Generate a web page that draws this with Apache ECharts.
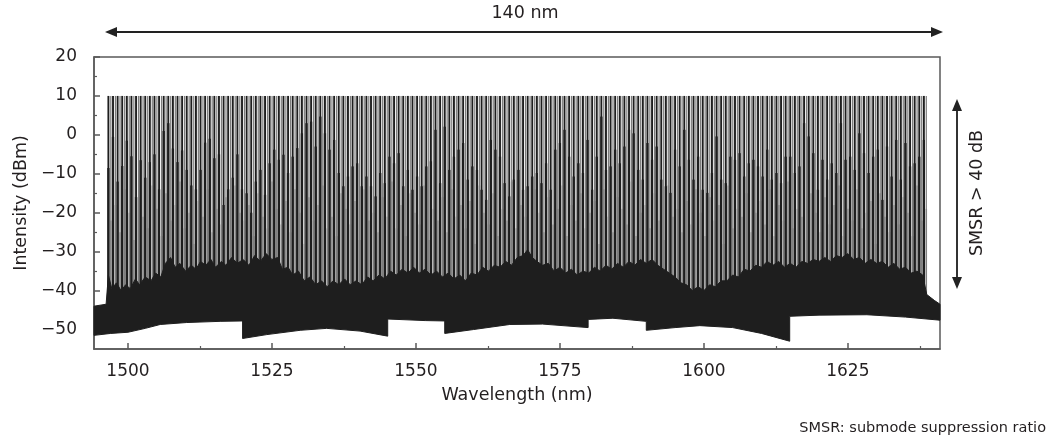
<!DOCTYPE html>
<html>
<head>
<meta charset="utf-8">
<script src="https://cdn.jsdelivr.net/npm/echarts@6/dist/echarts.min.js"></script>
<style>
  html, body { margin: 0; padding: 0; background: #fff; }
  #main { width: 1051px; height: 446px; }
</style>
</head>
<body>
<div id="main"></div>
<script>
// lasing channels (nm), all peaks reach the same level
const peakNm = [
  1496.6, 1497.4, 1498.2, 1499.0, 1499.8, 1500.6, 1501.4, 1502.2, 1503.0, 1503.8,
  1504.6, 1505.4, 1506.2, 1507.0, 1507.8, 1508.6, 1509.4, 1510.2, 1511.0, 1511.8,
  1512.6, 1513.4, 1514.2, 1515.0, 1515.8, 1516.6, 1517.4, 1518.2, 1519.0, 1519.8,
  1520.6, 1521.4, 1522.2, 1523.0, 1523.8, 1524.6, 1525.4, 1526.2, 1527.0, 1527.8,
  1528.6, 1529.4, 1530.2, 1531.0, 1531.8, 1532.6, 1533.4, 1534.2, 1535.0, 1535.8,
  1536.6, 1537.4, 1538.2, 1539.0, 1539.8, 1540.6, 1541.4, 1542.2, 1543.0, 1543.8,
  1544.6, 1545.4, 1546.2, 1547.0, 1547.8, 1548.6, 1549.4, 1550.2, 1551.0, 1551.8,
  1552.6, 1553.4, 1554.2, 1555.0, 1555.8, 1556.6, 1557.4, 1558.2, 1559.0, 1559.8,
  1560.6, 1561.4, 1562.2, 1563.0, 1563.8, 1564.6, 1565.4, 1566.2, 1567.0, 1567.8,
  1568.6, 1569.4, 1570.2, 1571.0, 1571.8, 1572.6, 1573.4, 1574.2, 1575.0, 1575.8,
  1576.6, 1577.4, 1578.2, 1579.0, 1579.8, 1580.6, 1581.4, 1582.2, 1583.0, 1583.8,
  1584.6, 1585.4, 1586.2, 1587.0, 1587.8, 1588.6, 1589.4, 1590.2, 1591.0, 1591.8,
  1592.6, 1593.4, 1594.2, 1595.0, 1595.8, 1596.6, 1597.4, 1598.2, 1599.0, 1599.8,
  1600.6, 1601.4, 1602.2, 1603.0, 1603.8, 1604.6, 1605.4, 1606.2, 1607.0, 1607.8,
  1608.6, 1609.4, 1610.2, 1611.0, 1611.8, 1612.6, 1613.4, 1614.2, 1615.0, 1615.8,
  1616.6, 1617.4, 1618.2, 1619.0, 1619.8, 1620.6, 1621.4, 1622.2, 1623.0, 1623.8,
  1624.6, 1625.4, 1626.2, 1627.0, 1627.8, 1628.6, 1629.4, 1630.2, 1631.0, 1631.8,
  1632.6, 1633.4, 1634.2, 1635.0, 1635.8, 1636.6, 1637.4, 1638.2
];
const peakDbm = 10;
const floorDbm = -46;

// height of the dense dark part under each peak (dBm)
const darkTop = [
  -8.5, -0.5, -12, -8, -1.5, -5.5, -16, -6.5, -11, -7,
  -5, -14, 1, 3, -3.5, -7, -4, -9, -13, -14,
  -9, -2, -1, -6, -5, -18, -14, -11, -5, -14,
  -15, -20, -12, -9,
  -15.4, -7.3, -3.8, -6.4, -5.1, -9.8, -5.6, -3.4, 0.4, 3,
  3.4, -3, 4.7, 0.4, -3.8, -1.3, -9.8, -13.2, -10.7, -8.1,
  -7.3, -13.2, -10.7, -13.2, -15.8, -9.8, -12.4, -5.6, -7.3, -4.7,
  -13.2, -9, -14.1, -10.7, -13.2, -8.1, -6.8,
  1.3, -12.4, 2.1, -9, -5.6, -3.8, -2.1, -11.5, -8.1, -9,
  -14.1, -16.7, -1.3, -3.8, -5.6, -12.4, -15.8, -11.5, -9, -14.1,
  -13.2, -10.7, -9.8, -12.4, -7.3, -14.1, -3.8, -2.1, 1.3, -5.6,
  -10.7, -7.3, -9.8, -1.3, -14.1, -5.6, 4.7,
  -9, -8.1, -3.8, -7.3, -3, 1.3, 0.4, -9, -11.5, -2.1,
  -6.4, -3, -11.5, -13.2, -14.9, -3.8, -8.1, 1.3, -6.4, -11.5,
  -5.6, -14.1, -14.9, -9.8, -0.4, -11.5, -12.4, -5.6, -6.4, -4.7,
  -10.7, -7.3, -6.4, -8.1, -10.7, -3.8, -11.5,
  -9.8, -12.4, -5.6, -5.6, -9.8, -8.1, 3, -0.4, -4.7, -14.1,
  -6.4, -11.5, -7.3, -9.8, 3, -6.4, -5.6, -9, 0.4, -4.7,
  -9.8, -5.6, -3.8, -16.7, -3, -10.7, -1.3, -11.5, -2.1, -8.1,
  -7.3, -5.6, -1.3
];

// light grey side traces between the peaks (dBm)
const lightTop = [
  -22, -18, -25, -14, -20, -27, -16, -21, -24, -13,
  -19, -26, -15, -22, -18, -12, -24, -20, -28, -17,
  -21, -14, -25, -19, -23, -16, -27, -13, -20, -22,
  -18, -26, -15, -21, -24, -12, -19, -23, -17, -25,
  -14, -20, -28, -16, -22, -18, -13, -24, -21, -26,
  -15, -19, -23, -17, -27, -14, -22, -20, -25, -16,
  -21, -12, -24, -18, -26, -15, -20, -23, -13, -27,
  -19, -22, -16, -25, -14, -21, -18, -24, -17, -28,
  -13, -20, -23, -15, -26, -19, -22, -12, -24, -18,
  -21, -27, -14, -20, -25, -16, -23, -19, -13, -26,
  -18, -22, -15, -24, -20, -17, -28, -14, -21, -25,
  -16, -19, -23, -12, -26, -20, -18, -24, -15, -22,
  -27, -13, -21, -19, -25, -17, -23, -14, -20, -26,
  -16, -22, -18, -28, -13, -24, -19, -21, -15, -25,
  -20, -17, -23, -14, -26, -18, -22, -12, -24, -19,
  -21, -27, -15, -20, -25, -16, -23, -18, -13, -26,
  -19, -22, -14, -24, -20, -17, -28, -15, -21, -25,
  -18, -23, -16, -20, -26, -13, -22, -19
];

// upper edge of the noise floor
const envTopNm = [1494.1, 1496.2, 1496.6, 1497.2, 1498, 1498.8, 1499.6, 1500.4, 1501.3, 1502,
  1503, 1504, 1504.8, 1505.7, 1506.5, 1507.4, 1508.2, 1509, 1510, 1511,
  1511.8, 1512.6, 1513.5, 1514.4, 1515.2, 1516.2, 1517, 1518, 1519, 1520,
  1521, 1522, 1523, 1524, 1525, 1526, 1526.8, 1527.8, 1528.6, 1529.6,
  1530.6, 1531.6, 1532.6, 1533.6, 1534.6, 1535.6, 1536.6, 1537.6, 1538.6, 1539.6,
  1540.6, 1541.6, 1542.6, 1543.6, 1544.6, 1545.6, 1546.6, 1547.6, 1548.6, 1549.6,
  1550.6, 1551.6, 1552.6, 1553.6, 1554.6, 1555.6, 1556.6, 1557.6, 1558.6, 1559.6,
  1560.6, 1561.6, 1562.6, 1563.6, 1564.6, 1565.6, 1566.6, 1567.6, 1568.6, 1569.4,
  1570.2, 1571, 1572, 1573, 1574, 1575, 1576, 1577, 1578, 1579,
  1580, 1581, 1582, 1583, 1584, 1585, 1586, 1587, 1588, 1589,
  1590, 1591, 1592, 1593, 1594, 1595, 1596, 1597, 1598, 1599,
  1600, 1601, 1602, 1603, 1604, 1605, 1606, 1607, 1608, 1609,
  1610, 1611, 1612, 1613, 1614, 1615, 1616, 1617, 1618, 1619,
  1620, 1621, 1622, 1623, 1624, 1625, 1626, 1627, 1628, 1629,
  1630, 1631, 1632, 1633, 1634, 1635, 1636, 1637, 1638, 1638.7,
  1640, 1641];
const envTopDb = [-44, -43.5, -36, -39.5, -38, -40, -38.5, -39.5, -37, -38.5,
  -36.5, -37.5, -35.5, -36.5, -33, -31.5, -34, -33, -35, -33.5,
  -34.5, -32.5, -33.5, -32, -34, -32.5, -33.5, -31.5, -33, -32,
  -33.5, -31, -32.5, -30.5, -32, -31.5, -34.5, -34, -36, -35,
  -37.5, -36.5, -38.5, -37.5, -39, -37.5, -38.5, -37, -38.5, -37.5,
  -38.5, -36.5, -37.5, -36, -37, -35, -36, -34.5, -35.5, -34,
  -35.5, -34.5, -36, -35, -36.5, -35.5, -37, -36, -37.5, -35.5,
  -36, -34, -35, -33.5, -34, -32.5, -33.5, -31.5, -31, -29.5,
  -31.5, -32.5, -33.5, -33, -35, -34, -35.5, -34.5, -36, -35,
  -35.5, -34, -35, -33.5, -34.5, -33, -34, -32.5, -33.5, -32,
  -33, -32, -33.5, -34.5, -35.5, -36.5, -38, -38.5, -40, -39,
  -40, -38.5, -39, -37.5, -37.5, -36, -36.5, -34.5, -35, -33.5,
  -34, -32.5, -33.5, -32.5, -34, -33, -34, -32.5, -33, -32,
  -32.5, -31.5, -32.5, -31, -31.5, -30.5, -32, -31.5, -33, -32,
  -33, -32.5, -34, -33, -34.5, -34, -35.5, -35, -36, -41,
  -42.5, -43.5];

// lower edge of the noise floor (steps where the sections join)
const envLowNm = [1494.1, 1497, 1500, 1503, 1505.6, 1510.2, 1516, 1519.9, 1519.9, 1524.1,
  1529.9, 1534.5, 1540.3, 1545.1, 1545.1, 1551.6, 1555, 1555, 1560, 1566.3,
  1572, 1579.9, 1579.9, 1584.2, 1590, 1590, 1595, 1599.3, 1605, 1610,
  1614.9, 1614.9, 1620, 1628.3, 1635, 1641];
const envLowDb = [-51.5, -51, -50.7, -49.7, -48.7, -48.2, -47.9, -47.8, -52.3, -51.3,
  -50.2, -49.7, -50.4, -51.7, -47.3, -47.7, -47.8, -51, -50, -48.7,
  -48.6, -49.5, -47.4, -47.1, -47.9, -50.2, -49.5, -49, -49.5, -51,
  -53, -46.6, -46.3, -46.2, -46.8, -47.6];

const xMajor = [1500, 1525, 1550, 1575, 1600, 1625];
const xMinor = [1512.5, 1537.5, 1562.5, 1587.5, 1612.5, 1637.5];
const yMajor = [-50, -40, -30, -20, -10, 0, 10, 20];
const yMinor = [-45, -35, -25, -15, -5, 5, 15];

const font = 'DejaVu Sans';
const ink = '#231f20';
const frame = '#5a5a5a';

const myChart = echarts.init(document.getElementById('main'));

const peakData = peakNm.map((x, i) => [x, darkTop[i], lightTop[i]]);
const xMin = 1494.1, xMax = 1641;

function axisBase(extra) {
  return Object.assign({
    type: 'value',
    scale: true,
    splitLine: { show: false },
  }, extra);
}

myChart.setOption({
  animation: false,
  grid: { left: 94, right: 111, top: 57, bottom: 97, show: true, borderColor: frame, borderWidth: 1.5 },
  xAxis: [
    axisBase({
      min: xMin, max: xMax,
      name: 'Wavelength (nm)', nameLocation: 'middle', nameGap: 37,
      nameTextStyle: { fontFamily: font, fontSize: 17.5, color: ink },
      axisLine: { onZero: false, lineStyle: { color: frame, width: 1.5 } },
      axisTick: { inside: true, length: 6, customValues: xMajor, lineStyle: { color: frame, width: 1.5 } },
      axisLabel: { customValues: xMajor, margin: 14, fontFamily: font, fontSize: 17, color: ink, formatter: v => String(v) }
    }),
    axisBase({
      min: xMin, max: xMax, position: 'bottom',
      axisLine: { show: false, onZero: false },
      axisTick: { inside: true, length: 3, customValues: xMinor, lineStyle: { color: frame, width: 1.2 } },
      axisLabel: { show: false }
    })
  ],
  yAxis: [
    axisBase({
      min: -55, max: 20,
      name: 'Intensity (dBm)', nameLocation: 'middle', nameGap: 62,
      nameTextStyle: { fontFamily: font, fontSize: 17.5, color: ink },
      axisLine: { onZero: false, lineStyle: { color: frame, width: 1.5 } },
      axisTick: { inside: true, length: 6, customValues: yMajor, lineStyle: { color: frame, width: 1.5 } },
      axisLabel: {
        customValues: yMajor, margin: 17, fontFamily: font, fontSize: 17, color: ink,
        formatter: v => String(v).replace('-', '\u2212')
      }
    }),
    axisBase({
      min: -55, max: 20, position: 'left',
      axisLine: { show: false, onZero: false },
      axisTick: { inside: true, length: 3, customValues: yMinor, lineStyle: { color: frame, width: 1.2 } },
      axisLabel: { show: false }
    })
  ],
  series: [
    {
      // peaks
      type: 'custom',
      z: 2,
      data: peakData,
      encode: { x: 0, y: 1 },
      renderItem: function (params, api) {
        const x = api.value(0);
        const xs = x + 0.42;
        const b = api.coord([x, floorDbm]);
        const t = api.coord([x, peakDbm]);
        const d = api.coord([x, api.value(1)]);
        const bs = api.coord([xs, floorDbm]);
        const ts = api.coord([xs, peakDbm]);
        const ls = api.coord([xs, api.value(2)]);
        return {
          type: 'group',
          children: [
            { type: 'line', shape: { x1: bs[0], y1: bs[1], x2: ls[0], y2: ls[1] }, style: { stroke: '#b0b0b0', lineWidth: 1.6 } },
            { type: 'line', shape: { x1: bs[0], y1: bs[1], x2: ts[0], y2: ts[1] }, style: { stroke: '#7c7c7c', lineWidth: 1.2 } },
            { type: 'line', shape: { x1: b[0], y1: b[1], x2: t[0], y2: t[1] }, style: { stroke: '#1e1e1e', lineWidth: 1.9 } },
            { type: 'line', shape: { x1: b[0], y1: b[1], x2: d[0], y2: d[1] }, style: { stroke: '#1e1e1e', lineWidth: 2.3 } }
          ]
        };
      }
    },
    {
      // noise floor band
      type: 'custom',
      z: 3,
      data: [[envTopNm[0], envTopDb[0]]],
      renderItem: function (params, api) {
        const pts = [];
        envTopNm.forEach((x, i) => pts.push(api.coord([x, envTopDb[i]])));
        for (let i = envLowNm.length - 1; i >= 0; i--) pts.push(api.coord([envLowNm[i], envLowDb[i]]));
        return { type: 'polygon', shape: { points: pts }, style: { fill: '#1e1e1e', stroke: '#1e1e1e', lineWidth: 1 } };
      }
    }
  ],
  graphic: [
    // 140 nm span arrow
    { type: 'line', shape: { x1: 113, y1: 32, x2: 935, y2: 32 }, style: { stroke: '#222', lineWidth: 2 } },
    { type: 'polygon', shape: { points: [[105, 32], [117, 27], [117, 37]] }, style: { fill: '#222' } },
    { type: 'polygon', shape: { points: [[943, 32], [931, 27], [931, 37]] }, style: { fill: '#222' } },
    { type: 'text', x: 525, y: 13, style: { text: '140 nm', font: '17.5px "DejaVu Sans"', fill: ink, align: 'center', verticalAlign: 'middle' } },
    // SMSR arrow
    { type: 'line', shape: { x1: 957, y1: 108, x2: 957, y2: 280 }, style: { stroke: '#333', lineWidth: 2 } },
    { type: 'polygon', shape: { points: [[957, 99], [952, 111], [962, 111]] }, style: { fill: '#222' } },
    { type: 'polygon', shape: { points: [[957, 289], [952, 277], [962, 277]] }, style: { fill: '#222' } },
    { type: 'text', x: 977, y: 193, rotation: Math.PI / 2, style: { text: 'SMSR > 40 dB', font: '17.5px "DejaVu Sans"', fill: ink, align: 'center', verticalAlign: 'middle' } },
    { type: 'text', x: 1046, y: 428, style: { text: 'SMSR: submode suppression ratio', font: '14.5px "DejaVu Sans"', fill: ink, align: 'right', verticalAlign: 'middle' } }
  ]
});
</script>
</body>
</html>
